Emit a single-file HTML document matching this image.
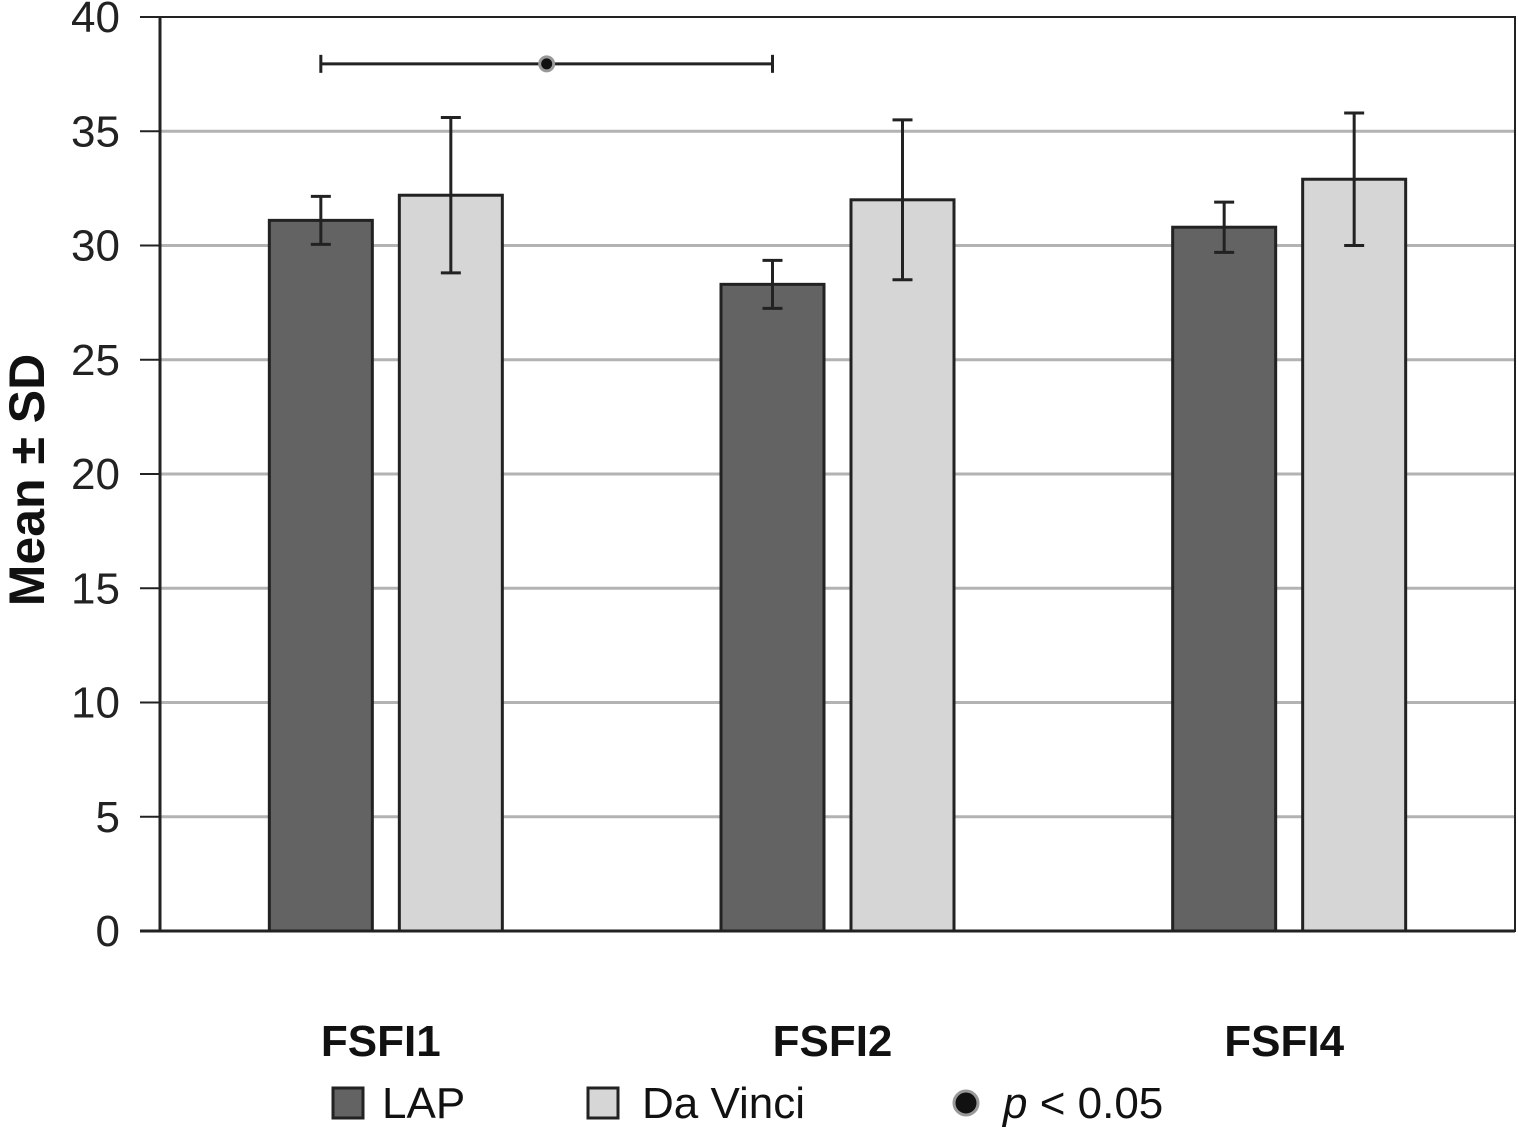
<!DOCTYPE html>
<html><head><meta charset="utf-8"><style>
html,body{margin:0;padding:0;background:#fff;}
svg{display:block;font-family:"Liberation Sans",sans-serif;}
</style></head><body>
<svg id="chart" width="1518" height="1135">
</svg>
<script>
const categories=["FSFI1","FSFI2","FSFI4"];
const lapMeans=[31.1,28.3,30.8];
const lapSD=[1.05,1.05,1.1];
const dvMeans=[32.2,32.0,32.9];
const dvSD=[3.4,3.5,2.9];
const yTicks=[0,5,10,15,20,25,30,35,40];
const sigPairs=[[0,1,37.95]];

const NS="http://www.w3.org/2000/svg";
const svg=document.getElementById('chart');
const L=160,R=1515,T=17,B=931,yMax=40;
const y=v=>B-(v/yMax)*(B-T);
const bandW=(R-L)/categories.length;
const cx=i=>L+bandW*(i+0.5);
const barW=103, off=65;
function mk(tag,attrs,parent){const e=document.createElementNS(NS,tag);for(const k in attrs)e.setAttribute(k,attrs[k]);(parent||svg).appendChild(e);return e;}

yTicks.forEach(t=>{
  if(t>0&&t<yMax){const g=mk('line',{x1:L,x2:R,y1:y(t),y2:y(t),stroke:'#b3b3b3','stroke-width':3});
  
  }
  const tk=mk('line',{x1:L-20,x2:L,y1:y(t),y2:y(t),stroke:'#222','stroke-width':2});
  
  
  const tx=mk('text',{x:L-40,y:y(t)+15,'text-anchor':'end','font-size':44,fill:'#222'});
  tx.textContent=t;
  
  
});
const fr=mk('rect',{x:L,y:T,width:R-L,height:B-T,fill:'none',stroke:'#222','stroke-width':2});


const ax=mk('line',{x1:L,x2:L,y1:T,y2:B,stroke:'#222','stroke-width':3});


const bx=mk('line',{x1:L-20,x2:R,y1:B,y2:B,stroke:'#222','stroke-width':3});



function err(x,m,s){
  const g=mk('g',{stroke:'#222','stroke-width':3});
  
  
  mk('line',{x1:x,x2:x,y1:y(m+s),y2:y(m-s)},g);
  mk('line',{x1:x-10,x2:x+10,y1:y(m+s),y2:y(m+s)},g);
  mk('line',{x1:x-10,x2:x+10,y1:y(m-s),y2:y(m-s)},g);
}
categories.forEach((c,i)=>{
  const xl=cx(i)-off, xd=cx(i)+off;
  const b1=mk('rect',{x:xl-barW/2,y:y(lapMeans[i]),width:barW,height:B-y(lapMeans[i]),fill:'#636363',stroke:'#222','stroke-width':3});
  
  
  const b2=mk('rect',{x:xd-barW/2,y:y(dvMeans[i]),width:barW,height:B-y(dvMeans[i]),fill:'#d6d6d6',stroke:'#222','stroke-width':3});
  
  
  err(xl,lapMeans[i],lapSD[i]);
  err(xd,dvMeans[i],dvSD[i]);
  const t=mk('text',{x:cx(i)-5,y:1056,'text-anchor':'middle','font-size':44,'font-weight':'bold',fill:'#111'});
  t.textContent=c;
  
  
});
sigPairs.forEach(p=>{
  const x1=cx(p[0])-off, x2=cx(p[1])-off, yy=y(p[2]);
  const g=mk('g',{stroke:'#222','stroke-width':3});
  
  
  mk('line',{x1:x1,x2:x2,y1:yy,y2:yy},g);
  mk('line',{x1:x1,x2:x1,y1:yy-9,y2:yy+9},g);
  mk('line',{x1:x2,x2:x2,y1:yy-9,y2:yy+9},g);
  mk('circle',{cx:(x1+x2)/2,cy:yy,r:7,fill:'#111',stroke:'#999','stroke-width':3},g);
});
const yt=mk('text',{x:0,y:0,transform:'translate(44,480) rotate(-90)','text-anchor':'middle','font-size':50,'font-weight':'bold',fill:'#111'});
yt.textContent='Mean ± SD';


const lg=mk('g',{});


mk('rect',{x:333,y:1088,width:30,height:30,fill:'#636363',stroke:'#222','stroke-width':3},lg);
let t1=mk('text',{x:382,y:1118,'font-size':44,fill:'#111'},lg);t1.textContent='LAP';


mk('rect',{x:588,y:1088,width:30,height:30,fill:'#d6d6d6',stroke:'#222','stroke-width':3},lg);
let t2=mk('text',{x:642,y:1118,'font-size':44,fill:'#111'},lg);t2.textContent='Da Vinci';


mk('circle',{cx:966,cy:1103,r:12,fill:'#111',stroke:'#999','stroke-width':3},lg);
let t3=mk('text',{x:1003,y:1118,'font-size':44,fill:'#111'},lg);
t3.innerHTML='<tspan font-style="italic">p</tspan> &lt; 0.05';


</script>
</body></html>
